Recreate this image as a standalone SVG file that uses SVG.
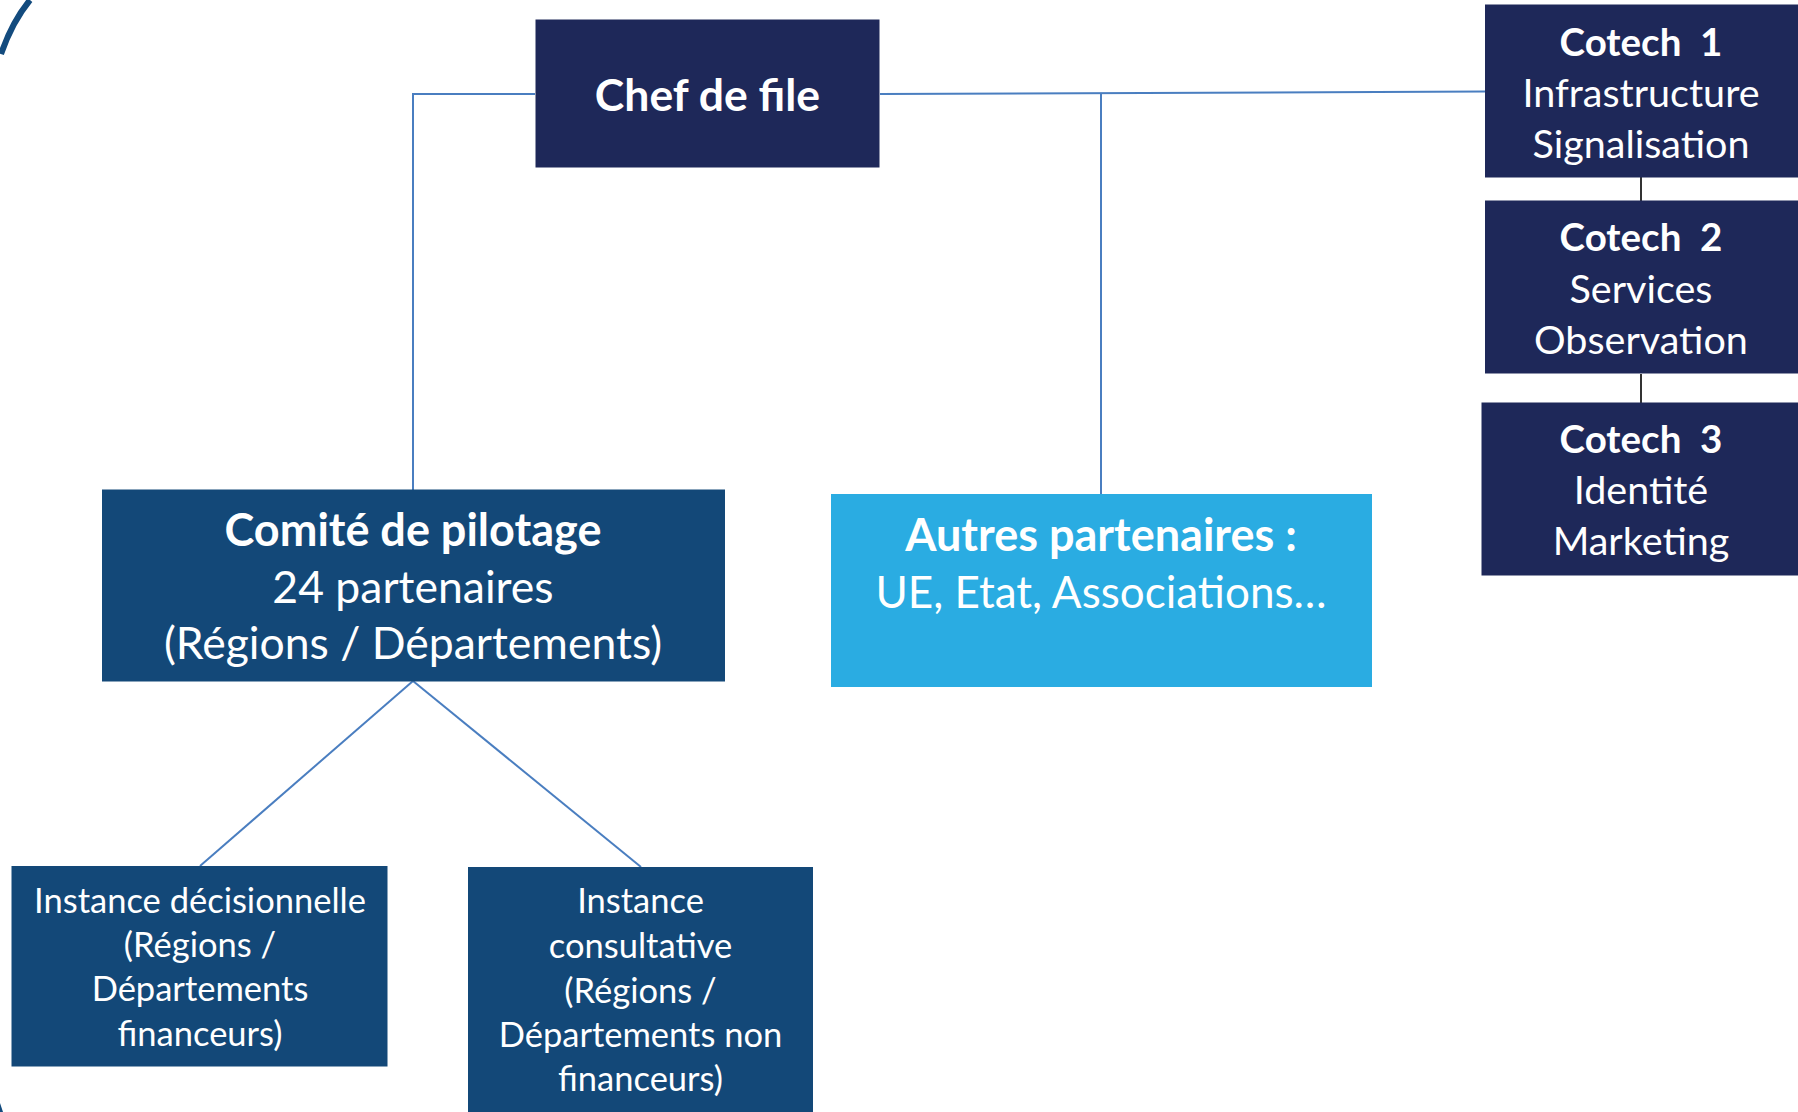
<svg xmlns="http://www.w3.org/2000/svg" width="1798" height="1112" viewBox="0 0 1798 1112">
<style>
.navy{fill:#1E2859}
.mid{fill:#134878}
.sky{fill:#2AACE2}
text{font-family:Lato,"Open Sans","Liberation Sans",sans-serif;fill:#FFFFFF;text-anchor:middle}
.b{font-weight:bold}
.con{stroke:#4A7EC0;stroke-width:2;fill:none}
.dk{stroke:#333333;stroke-width:2;fill:none}
</style>
<rect width="1798" height="1112" fill="#FFFFFF"/>
<path d="M1,54 Q12,22 30,0" stroke="#134B7E" stroke-width="6" fill="none"/>
<path d="M0,1103 L3,1112 L0,1112 Z" fill="#134B7E"/>
<g id="connectors">
<polyline class="con" points="535,94 413,94 413,490"/>
<line class="con" x1="880" y1="94" x2="1485" y2="91.5"/>
<line class="con" x1="1101" y1="93" x2="1101" y2="494"/>
<line class="con" x1="413" y1="681" x2="200" y2="866"/>
<line class="con" x1="413" y1="681" x2="641" y2="867"/>
<line class="dk" x1="1641" y1="177" x2="1641" y2="201"/>
<line class="dk" x1="1641" y1="374" x2="1641" y2="403"/>
</g>
<g id="chef">
<rect class="navy" x="535.5" y="19.5" width="344" height="148"/>
<text class="b" x="707.5" y="110.5" font-size="44.5">Chef de file</text>
</g>
<g id="cotech1">
<rect class="navy" x="1485" y="4.5" width="313" height="173"/>
<text class="b" x="1641" y="56" font-size="38.5" xml:space="preserve">Cotech  1</text>
<text x="1641" y="107" font-size="39.5">Infrastructure</text>
<text x="1641" y="157.5" font-size="39.5">Signalisation</text>
</g>
<g id="cotech2">
<rect class="navy" x="1485" y="200.5" width="313" height="173"/>
<text class="b" x="1641" y="251" font-size="38.5" xml:space="preserve">Cotech  2</text>
<text x="1641" y="302.5" font-size="39.5">Services</text>
<text x="1641" y="353.5" font-size="39.5">Observation</text>
</g>
<g id="cotech3">
<rect class="navy" x="1481.5" y="402.5" width="317" height="173"/>
<text class="b" x="1641" y="453" font-size="38.5" xml:space="preserve">Cotech  3</text>
<text x="1641" y="503.5" font-size="39.5">Identité</text>
<text x="1641" y="554.5" font-size="39.5">Marketing</text>
</g>
<g id="comite">
<rect class="mid" x="102" y="489.5" width="623" height="192"/>
<text class="b" x="413" y="545.5" font-size="45">Comité de pilotage</text>
<text x="413" y="602.5" font-size="44.5">24 partenaires</text>
<text x="413" y="658.5" font-size="44.5">(Régions / Départements)</text>
</g>
<g id="autres">
<rect class="sky" x="831" y="494" width="541" height="193"/>
<text class="b" x="1101" y="550.5" font-size="45">Autres partenaires :</text>
<text x="1101" y="607.5" font-size="44">UE, Etat, Associations…</text>
</g>
<g id="decisionnelle">
<rect class="mid" x="11.5" y="866" width="376" height="200.5"/>
<text x="200" y="912.5" font-size="34.5">Instance décisionnelle</text>
<text x="200" y="956.5" font-size="34.5">(Régions /</text>
<text x="200" y="1001" font-size="34.5">Départements</text>
<text x="200" y="1045.5" font-size="34.5">financeurs)</text>
</g>
<g id="consultative">
<rect class="mid" x="468" y="867" width="345" height="250"/>
<text x="640.5" y="913" font-size="34.5">Instance</text>
<text x="640.5" y="957.5" font-size="34.5">consultative</text>
<text x="640.5" y="1002.5" font-size="34.5">(Régions /</text>
<text x="640.5" y="1046.5" font-size="34.5">Départements non</text>
<text x="640.5" y="1090.5" font-size="34.5">financeurs)</text>
</g>
</svg>
